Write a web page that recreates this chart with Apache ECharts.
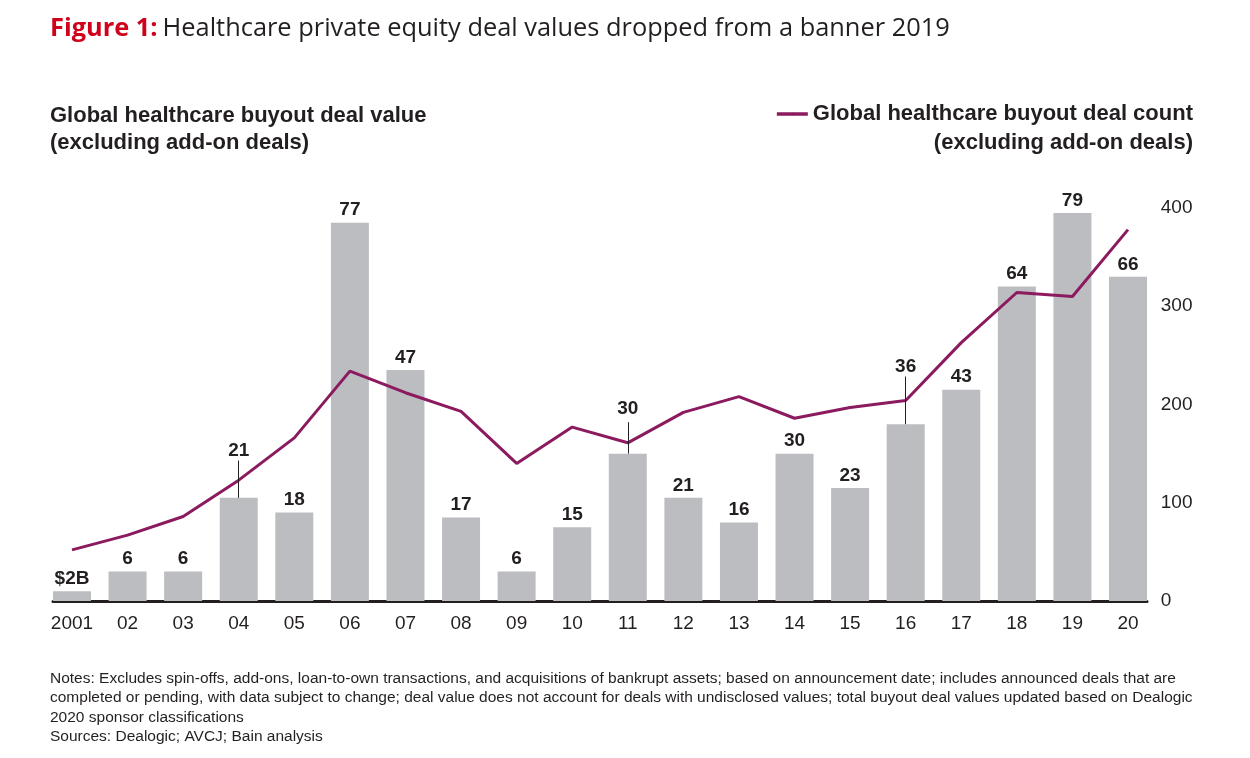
<!DOCTYPE html>
<html>
<head>
<meta charset="utf-8">
<script src="https://cdn.jsdelivr.net/npm/echarts@6/dist/echarts.min.js"></script>
<style>
html,body{margin:0;padding:0;background:#fff;}
#c{width:1250px;height:758px;}
</style>
</head>
<body>
<div id="c"></div>
<script>
const categories = ['2001','02','03','04','05','06','07','08','09','10','11','12','13','14','15','16','17','18','19','20'];
const dealValue = [2,6,6,21,18,77,47,17,6,15,30,21,16,30,23,36,43,64,79,66];
const dealCount = [52,67,86,123,166,234,212,193,140,177,161,192,208,186,197,204,263,314,310,378];
const valueLabels = ['$2B','6','6','21','18','77','47','17','6','15','30','21','16','30','23','36','43','64','79','66'];
const countTicks = [0,100,200,300,400];
// leader lines: [category, label line top value]
const leaders = [['04',28.6],['11',36.4],['16',45.7]];
const labelOffsets = {'04':-35,'11':-32,'16':-45};

const textColor = '#231f20';
const chart = echarts.init(document.getElementById('c'));

const barData = dealValue.map((v,i)=>{
  const d = {value:v};
  const off = labelOffsets[categories[i]];
  if (off !== undefined) d.label = {offset:[0,off]};
  return d;
});

chart.setOption({
  animation:false,
  backgroundColor:'#fff',
  title:[
    {
      text:'{a|Figure 1:} {b|Healthcare private equity deal values dropped from a banner 2019}',
      left:50, top:16, padding:0,
      textStyle:{fontWeight:'normal',rich:{
        a:{fontFamily:'Open Sans',fontWeight:'bold',fontSize:25.4,color:'#d0021b'},
        b:{fontFamily:'Open Sans',fontWeight:'normal',fontSize:25.4,color:'#231f20'}
      }}
    },
    {
      text:'Global healthcare buyout deal value\n(excluding add-on deals)',
      left:50, top:102, padding:0,
      textStyle:{fontFamily:'Liberation Sans',fontWeight:'bold',fontSize:22,lineHeight:27,color:textColor}
    },
    {
      text:'(excluding add-on deals)',
      right:57, top:129, padding:0,
      textStyle:{fontFamily:'Liberation Sans',fontWeight:'bold',fontSize:22,lineHeight:27,color:textColor}
    },
    {
      text:'Notes: Excludes spin-offs, add-ons, loan-to-own transactions, and acquisitions of bankrupt assets; based on announcement date; includes announced deals that are\ncompleted or pending, with data subject to change; deal value does not account for deals with undisclosed values; total buyout deal values updated based on Dealogic\n2020 sponsor classifications\nSources: Dealogic; AVCJ; Bain analysis',
      left:50, top:669, padding:0,
      textStyle:{fontFamily:'Liberation Sans',fontWeight:'normal',fontSize:15.5,lineHeight:19.3,color:textColor}
    }
  ],
  legend:{
    data:['Global healthcare buyout deal count'],
    right:57, top:103, padding:0,
    itemWidth:31, itemHeight:3, itemGap:8,
    lineStyle:{width:3.5},
    textStyle:{fontFamily:'Liberation Sans',fontWeight:'bold',fontSize:22,color:textColor}
  },
  grid:[
    {left:44.2, right:94.2, top:208, bottom:157, containLabel:false},
    {left:53, right:103, top:208, bottom:157, containLabel:false}
  ],
  xAxis:[
    {
      type:'category',
      gridIndex:0,
      data:categories,
      axisLine:{show:false},
      axisTick:{show:false},
      axisLabel:{fontFamily:'Liberation Sans',fontSize:19,color:textColor,margin:13}
    },
    {
      type:'category',
      gridIndex:1,
      data:categories,
      axisLine:{show:true,lineStyle:{color:'#231f20',width:3}},
      axisTick:{show:false},
      axisLabel:{show:false}
    }
  ],
  yAxis:[
    {type:'value',gridIndex:0,min:0,max:80,show:false,splitLine:{show:false}},
    {
      type:'value',gridIndex:0,min:0,max:400,interval:100,position:'right',
      axisLine:{show:false},axisTick:{show:false},splitLine:{show:false},
      axisLabel:{fontFamily:'Liberation Sans',fontSize:19,color:textColor,margin:5,
        formatter:v=>countTicks.includes(v)?String(v):''}
    },
    {type:'value',gridIndex:1,min:0,max:80,show:false,splitLine:{show:false}}
  ],
  series:[
    {
      name:'Global healthcare buyout deal value',
      type:'bar',
      xAxisIndex:0,
      yAxisIndex:0,
      data:barData,
      barWidth:38,
      itemStyle:{color:'#bcbdc1'},
      label:{show:true,position:'top',distance:3,fontFamily:'Liberation Sans',fontWeight:'bold',fontSize:19,color:textColor,
        formatter:p=>valueLabels[p.dataIndex]},
      markLine:{
        silent:true,symbol:'none',
        label:{show:false},
        lineStyle:{color:textColor,width:1,type:'solid'},
        data:leaders.map(l=>{
          const i = categories.indexOf(l[0]);
          return [{coord:[l[0],dealValue[i]]},{coord:[l[0],l[1]]}];
        })
      },
      z:1
    },
    {
      name:'Global healthcare buyout deal count',
      type:'line',
      xAxisIndex:0,
      yAxisIndex:1,
      data:dealCount,
      symbol:'none',
      lineStyle:{color:'#8b1a5e',width:3},
      itemStyle:{color:'#8b1a5e'},
      z:3
    }
  ]
});
</script>
</body>
</html>
